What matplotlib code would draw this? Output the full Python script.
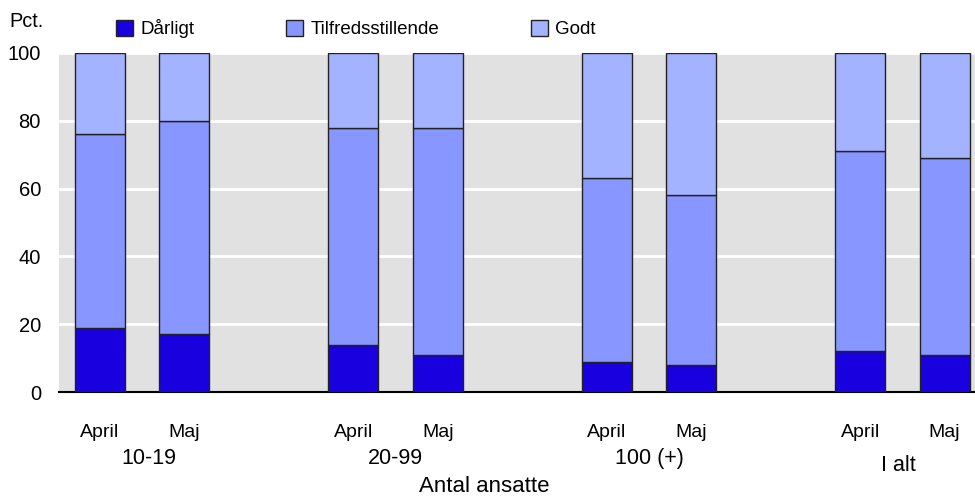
import numpy as np
import matplotlib
matplotlib.use("Agg")
import matplotlib.pyplot as plt

plt.rcParams['font.family'] = ['Liberation Sans', 'DejaVu Sans']

groups = ["10-19", "20-99", "100 (+)", "I alt"]
months = ["April", "Maj"]
daarligt = [19, 17, 14, 11, 9, 8, 12, 11]
tilfreds = [57, 63, 64, 67, 54, 50, 59, 58]
godt = [24, 20, 22, 22, 37, 42, 29, 31]
series_names = ["Dårligt", "Tilfredsstillende", "Godt"]
colors = ["#1800DF", "#8896FF", "#A3B3FF"]

x = np.array([0, 1, 3, 4, 6, 7, 9, 10], dtype=float)
w = 0.59

fig = plt.figure(figsize=(9.75, 4.99), dpi=100)
ax = fig.add_axes([0.0605, 0.2144, 0.9395, 0.6794])
ax.set_facecolor("#E1E1E1")

bottom = np.zeros(len(x))
for vals, c, name in zip([daarligt, tilfreds, godt], colors, series_names):
    ax.bar(x, vals, w, bottom=bottom, color=c, edgecolor="#222222",
           linewidth=1.0, label=name, zorder=3)
    bottom += np.array(vals)

ax.set_ylim(0, 100)
ax.set_xlim(-0.485, 10.36)
ax.set_yticks([0, 20, 40, 60, 80, 100])
ax.tick_params(axis='y', length=0, labelsize=14.5, pad=13)
ax.set_xticks(x)
ax.set_xticklabels(months * 4, fontsize=14)
ax.tick_params(axis='x', length=0, pad=23)
ax.yaxis.grid(True, color="white", linewidth=2, zorder=1)
ax.set_axisbelow(True)
for s in ["left", "right", "top"]:
    ax.spines[s].set_visible(False)
ax.spines["bottom"].set_linewidth(1.5)

group_y = [-19.5, -19.5, -19.5, -21.8]
group_dx = [0.08, 0, 0, -0.05]
for i, g in enumerate(groups):
    cx = (x[2 * i] + x[2 * i + 1]) / 2 + group_dx[i]
    ax.text(cx, group_y[i], g, ha="center", va="center", fontsize=15.5)
ax.text(4.55, -28.0, "Antal ansatte", ha="center", va="center", fontsize=16)

fig.text(0.027, 0.957, "Pct.", ha="center", va="center", fontsize=14.3)
ax.legend(loc="lower left", bbox_to_anchor=(0.062, 1.043), ncol=3, frameon=False,
          fontsize=13.5, handlelength=0.9, handleheight=0.9, handletextpad=0.4,
          columnspacing=4.9, borderaxespad=0, borderpad=0)

fig.savefig("out.png", dpi=100)
